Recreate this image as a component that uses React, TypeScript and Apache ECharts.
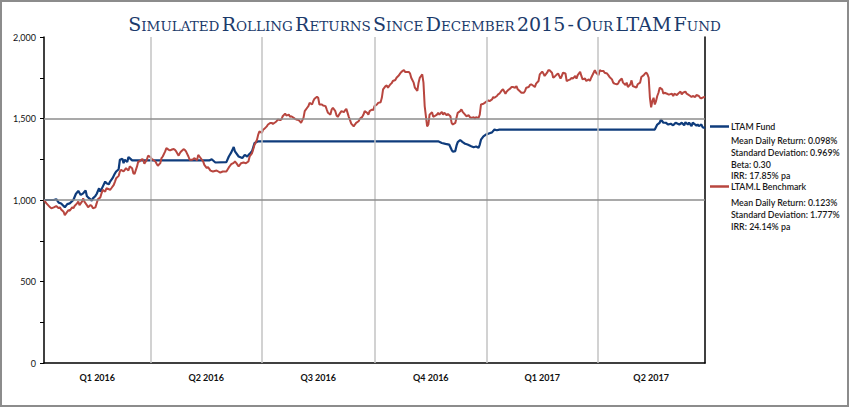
import React, { useEffect, useRef } from "react";
import * as echarts from "echarts";

// ---------- data ----------
const titleText = "Simulated Rolling Returns Since December 2015 - Our LTAM Fund";
const quarterLabels = ["Q1 2016", "Q2 2016", "Q3 2016", "Q4 2016", "Q1 2017", "Q2 2017"];
// day offsets (from 5 Jan 2016) at which each quarter starts, and the last day shown
const quarterStarts = [0, 87, 178, 270, 362, 452];
const lastDay = 540;
const yMin = 0;
const yMax = 2000;
const yTickStep = 250;
const yLabelStep = 500;
const gridLineValues = [1000, 1500];

const fundName = "LTAM Fund";
const fundStats = ["Mean Daily Return: 0.098%", "Standard Deviation: 0.969%", "Beta: 0.30", "IRR: 17.85% pa"];
const benchName = "LTAM.L Benchmark";
const benchStats = ["Mean Daily Return: 0.123%", "Standard Deviation: 1.777%", "IRR: 24.14% pa"];

// [day offset, index value]
const fundPoints = [
  [0, 1000], [8, 1000], [10, 1005], [12, 984], [14, 979], [17, 955], [19, 975], [21, 979], [24, 1000], [26, 1037],
  [28, 1056], [30, 1031], [32, 1041], [34, 1058], [35, 1025], [36, 1016], [38, 1004], [39, 996], [40, 1010], [42, 1025],
  [43, 1037], [45, 1072], [46, 1051], [48, 1082], [50, 1113], [51, 1103], [53, 1097], [54, 1113], [56, 1134], [58, 1164],
  [59, 1175], [61, 1189], [62, 1247], [64, 1253], [65, 1226], [66, 1247], [68, 1233], [69, 1263], [70, 1257], [72, 1243],
  [135, 1243], [137, 1250], [140, 1230], [149, 1232], [151, 1267], [153, 1292], [155, 1325], [156, 1298], [159, 1267], [162, 1257],
  [164, 1277], [166, 1267], [168, 1283], [170, 1300], [172, 1349], [175, 1360], [322, 1360], [325, 1350], [328, 1344], [331, 1340],
  [333, 1308], [334, 1296], [336, 1300], [337, 1333], [338, 1355], [340, 1368], [342, 1355], [344, 1345], [346, 1340], [349, 1330],
  [351, 1324], [353, 1328], [355, 1320], [356, 1340], [357, 1370], [359, 1390], [361, 1401], [364, 1410], [366, 1415], [368, 1432],
  [370, 1428], [372, 1432], [499, 1432], [501, 1463], [503, 1474], [504, 1494], [506, 1474], [508, 1474], [510, 1463], [512, 1468],
  [514, 1458], [516, 1474], [519, 1463], [521, 1474], [523, 1458], [524, 1477], [526, 1463], [527, 1474], [529, 1453], [530, 1474],
  [532, 1463], [533, 1456], [534, 1463], [535, 1453], [536, 1458], [537, 1463], [538, 1447], [539, 1442], [540, 1447],
];

const benchPoints = [
  [0, 1000], [2, 979], [5, 955], [6, 949], [8, 955], [10, 963], [12, 949], [13, 955], [14, 942], [16, 928],
  [17, 907], [18, 918], [20, 938], [21, 934], [23, 955], [24, 949], [25, 963], [27, 979], [28, 990], [29, 969],
  [31, 990], [32, 1010], [33, 990], [35, 969], [36, 955], [38, 969], [39, 963], [40, 949], [42, 955], [43, 979],
  [44, 1004], [46, 1016], [47, 1041], [48, 1062], [50, 1051], [51, 1072], [53, 1066], [54, 1062], [55, 1072], [57, 1093],
  [58, 1113], [59, 1134], [61, 1148], [62, 1175], [63, 1185], [65, 1175], [66, 1185], [67, 1195], [69, 1181], [70, 1206],
  [72, 1195], [73, 1164], [74, 1160], [76, 1206], [77, 1236], [78, 1236], [80, 1251], [81, 1247], [82, 1222], [84, 1247],
  [85, 1272], [87, 1263], [88, 1251], [89, 1247], [91, 1236], [92, 1222], [93, 1210], [95, 1226], [96, 1257], [97, 1267],
  [99, 1298], [100, 1318], [102, 1308], [103, 1304], [104, 1308], [106, 1313], [107, 1308], [108, 1298], [110, 1272], [111, 1288],
  [112, 1298], [114, 1312], [115, 1308], [116, 1298], [118, 1267], [119, 1247], [121, 1247], [122, 1251], [123, 1257], [125, 1243],
  [126, 1277], [127, 1267], [129, 1247], [130, 1237], [131, 1216], [133, 1196], [134, 1202], [136, 1180], [138, 1175], [141, 1181],
  [144, 1168], [146, 1175], [149, 1175], [151, 1200], [152, 1210], [153, 1220], [155, 1228], [156, 1236], [157, 1228], [159, 1206],
  [160, 1216], [161, 1226], [163, 1230], [165, 1226], [167, 1236], [168, 1267], [170, 1288], [171, 1313], [172, 1339], [174, 1370],
  [175, 1401], [176, 1421], [178, 1411], [179, 1432], [180, 1436], [182, 1452], [183, 1463], [185, 1473], [186, 1473], [187, 1467],
  [189, 1477], [190, 1483], [191, 1494], [193, 1490], [194, 1494], [195, 1514], [197, 1530], [198, 1518], [200, 1524], [201, 1510],
  [202, 1514], [204, 1504], [205, 1498], [206, 1494], [208, 1490], [209, 1483], [210, 1473], [212, 1504], [213, 1545], [215, 1566],
  [216, 1576], [217, 1596], [219, 1586], [220, 1607], [221, 1621], [223, 1633], [224, 1627], [225, 1586], [227, 1586], [228, 1580],
  [230, 1576], [231, 1555], [232, 1535], [234, 1524], [235, 1555], [236, 1566], [238, 1545], [239, 1518], [240, 1510], [242, 1535],
  [243, 1545], [245, 1539], [246, 1551], [247, 1559], [249, 1510], [250, 1490], [251, 1469], [253, 1452], [254, 1463], [255, 1473],
  [257, 1483], [258, 1498], [260, 1510], [261, 1524], [262, 1545], [264, 1535], [265, 1524], [266, 1545], [268, 1555], [269, 1551],
  [270, 1576], [272, 1586], [273, 1596], [275, 1600], [276, 1627], [277, 1679], [279, 1699], [280, 1703], [281, 1689], [283, 1710],
  [284, 1716], [285, 1730], [287, 1736], [288, 1750], [290, 1765], [291, 1777], [292, 1786], [294, 1798], [295, 1786], [296, 1786],
  [298, 1786], [299, 1777], [300, 1750], [302, 1720], [303, 1689], [305, 1669], [306, 1720], [307, 1750], [309, 1771], [310, 1720],
  [311, 1576], [313, 1452], [314, 1463], [315, 1524], [317, 1539], [318, 1510], [319, 1514], [321, 1524], [322, 1535], [323, 1524],
  [325, 1541], [326, 1524], [327, 1535], [329, 1520], [330, 1528], [332, 1514], [333, 1473], [334, 1463], [336, 1473], [337, 1504],
  [338, 1535], [340, 1545], [341, 1556], [342, 1541], [344, 1524], [345, 1514], [347, 1520], [348, 1508], [349, 1504], [351, 1508],
  [352, 1500], [353, 1508], [355, 1504], [356, 1524], [357, 1586], [359, 1590], [360, 1596], [362, 1607], [363, 1611], [364, 1607],
  [366, 1617], [367, 1632], [368, 1627], [370, 1638], [371, 1648], [372, 1652], [374, 1673], [375, 1679], [377, 1652], [378, 1665],
  [379, 1673], [381, 1685], [382, 1693], [383, 1693], [385, 1689], [386, 1699], [387, 1679], [389, 1665], [390, 1658], [392, 1658],
  [393, 1669], [394, 1689], [396, 1693], [397, 1706], [398, 1710], [400, 1699], [401, 1693], [402, 1714], [404, 1730], [405, 1771],
  [407, 1788], [408, 1776], [409, 1761], [411, 1781], [412, 1796], [413, 1796], [415, 1781], [416, 1750], [417, 1755], [419, 1771],
  [420, 1776], [422, 1745], [423, 1761], [424, 1781], [426, 1776], [427, 1730], [428, 1734], [430, 1740], [431, 1750], [432, 1745],
  [434, 1761], [435, 1745], [436, 1766], [438, 1786], [439, 1761], [440, 1740], [442, 1745], [443, 1730], [445, 1740], [446, 1730],
  [447, 1750], [449, 1781], [450, 1796], [451, 1781], [453, 1766], [454, 1796], [455, 1792], [457, 1792], [458, 1781], [460, 1776],
  [461, 1766], [462, 1755], [464, 1740], [465, 1720], [466, 1714], [468, 1710], [469, 1714], [470, 1730], [472, 1745], [473, 1720],
  [475, 1706], [476, 1720], [477, 1693], [479, 1710], [480, 1734], [481, 1699], [483, 1693], [484, 1689], [485, 1710], [487, 1720],
  [488, 1755], [490, 1766], [491, 1776], [492, 1781], [493, 1771], [494, 1750], [495, 1627], [496, 1569], [497, 1607], [498, 1627],
  [499, 1586], [500, 1607], [501, 1638], [502, 1658], [503, 1689], [505, 1679], [506, 1652], [507, 1658], [509, 1652], [510, 1648],
  [511, 1648], [513, 1652], [514, 1638], [515, 1652], [517, 1644], [518, 1652], [520, 1665], [521, 1648], [522, 1658], [524, 1665],
  [525, 1652], [526, 1648], [528, 1638], [529, 1632], [530, 1638], [532, 1632], [533, 1644], [535, 1638], [536, 1627], [537, 1623],
  [539, 1632], [540, 1628],
];

// ---------- styles ----------
const NAVY = "#1b3a6b";
const FUND_COLOR = "#0f3c7c";
const BENCH_COLOR = "#b8463f";
const UI_FONT = "Lato";
const LEGEND_SIZE = 8.8;

function smallCaps(s: string): string {
  const runs: { style: string; text: string }[] = [];
  for (const ch of s) {
    const style = ch === " " ? "sp" : ch !== ch.toUpperCase() ? "sm" : "cap";
    const last = runs[runs.length - 1];
    if (last && last.style === style) last.text += ch.toUpperCase();
    else runs.push({ style, text: ch.toUpperCase() });
  }
  return runs.map((r) => `{${r.style}|${r.text}}`).join("");
}

export default function App() {
  const ref = useRef<HTMLDivElement>(null);

  useEffect(() => {
    if (!ref.current) return;
    const chart = echarts.init(ref.current, undefined, { renderer: "svg" });

    const quarterEnds = [...quarterStarts.slice(1), lastDay];
    const quarterMids = quarterStarts.map((s, i) => (s + quarterEnds[i]) / 2);

    const titleRich = (size: number) => ({
      fontFamily: "DejaVu Serif",
      fontWeight: "normal",
      fontSize: size,
      color: NAVY,
      verticalAlign: "bottom",
      lineHeight: 22,
    });

    const statStyle = (lines: string[]) => ({
      text: lines.join("\n"),
      fontFamily: UI_FONT,
      fontSize: LEGEND_SIZE,
      fontWeight: 600,
      lineHeight: 11.7,
      fill: "#1a1a1a",
    });

    const option: any = {
      animation: false,
      backgroundColor: "#ffffff",
      textStyle: { fontFamily: UI_FONT },
      title: {
        text: smallCaps(titleText),
        left: "center",
        top: 6,
        textStyle: {
          fontWeight: "normal",
          rich: {
            cap: titleRich(19),
            sm: titleRich(13.5),
            sp: titleRich(7),
          },
        },
      },
      grid: { left: 44, right: 144, top: 37, bottom: 44, containLabel: false },
      legend: {
        orient: "vertical",
        left: 710,
        top: 122,
        padding: 0,
        icon: "rect",
        itemWidth: 19,
        itemHeight: 2.5,
        itemGap: 51,
        selectedMode: false,
        data: [fundName, benchName],
        textStyle: { fontFamily: UI_FONT, fontSize: LEGEND_SIZE, fontWeight: 600, color: "#1a1a1a", padding: [0, 0, 0, -3] },
      },
      xAxis: {
        type: "value",
        min: 0,
        max: lastDay,
        axisLine: { show: true, lineStyle: { color: "#000", width: 1.5 } },
        axisTick: { show: false },
        splitLine: { show: false },
        axisLabel: {
          customValues: quarterMids,
          formatter: (v: number) => {
            const i = quarterMids.findIndex((m) => Math.abs(m - v) < 0.01);
            return i >= 0 ? quarterLabels[i] : "";
          },
          fontFamily: UI_FONT,
          fontWeight: "bold",
          fontSize: 9,
          color: "#111",
          margin: 10,
        },
      },
      yAxis: [
        {
          type: "value",
          min: yMin,
          max: yMax,
          interval: yTickStep,
          axisLine: { show: true, lineStyle: { color: "#000", width: 1.5 } },
          axisTick: { show: true, length: 4, lineStyle: { color: "#000", width: 1 } },
          splitLine: { show: false },
          axisLabel: {
            formatter: (v: number) => (v % yLabelStep === 0 ? v.toLocaleString("en-US") : ""),
            fontFamily: UI_FONT,
            fontSize: 9,
            color: "#111",
            margin: 8,
          },
        },
        {
          type: "value",
          position: "right",
          min: yMin,
          max: yMax,
          interval: yTickStep,
          axisLine: { show: true, lineStyle: { color: "#000", width: 1.5 } },
          axisTick: { show: false },
          axisLabel: { show: false },
          splitLine: { show: false },
        },
      ],
      graphic: [
        {
          type: "rect",
          silent: true,
          z: -10,
          shape: { x: 1, y: 1, width: 847, height: 405 },
          style: { fill: "none", stroke: "#8c8c8c", lineWidth: 2 },
        },
        { type: "text", x: 731, y: 135, silent: true, style: statStyle(fundStats) },
        { type: "text", x: 731, y: 197, silent: true, style: statStyle(benchStats) },
      ],
      series: [
        {
          name: "gridlines",
          type: "line",
          data: [],
          z: 1,
          silent: true,
          markLine: {
            silent: true,
            symbol: ["none", "none"],
            label: { show: false },
            data: [
              ...quarterStarts.slice(1).map((d) => ({ xAxis: d, lineStyle: { color: "#c3c3c3", width: 1.5, type: "solid" } })),
              ...gridLineValues.map((v) => ({ yAxis: v, lineStyle: { color: "#8c8c8c", width: 1.5, type: "solid" } })),
            ],
          },
        },
        {
          name: fundName,
          type: "line",
          data: fundPoints,
          showSymbol: false,
          z: 3,
          color: FUND_COLOR,
          lineStyle: { color: FUND_COLOR, width: 2.2 },
        },
        {
          name: benchName,
          type: "line",
          data: benchPoints,
          showSymbol: false,
          z: 3,
          color: BENCH_COLOR,
          lineStyle: { color: BENCH_COLOR, width: 2 },
        },
      ],
    };

    chart.setOption(option);
    return () => chart.dispose();
  }, []);

  return (
    <div
      ref={ref}
      style={{ position: "absolute", left: 0, top: 0, width: 849, height: 407, background: "#fff" }}
    />
  );
}
